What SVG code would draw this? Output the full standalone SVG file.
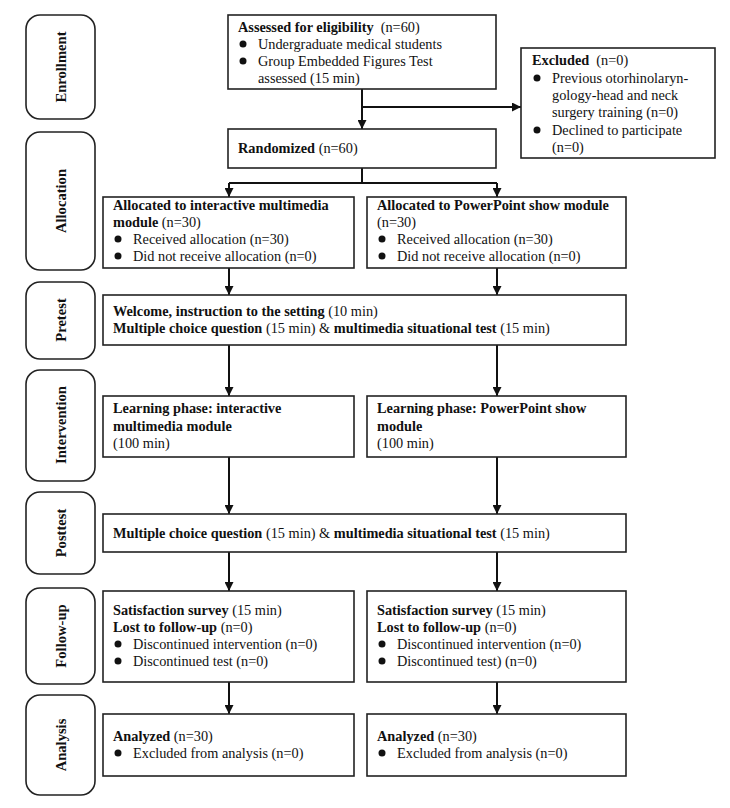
<svg xmlns="http://www.w3.org/2000/svg" width="730" height="808" viewBox="0 0 730 808">
<style>
text{font-family:"Liberation Serif","Times New Roman",serif;font-size:14.3px;fill:#111}
.b{font-weight:bold}
.box{fill:#fff;stroke:#222;stroke-width:1.6}
.side{fill:#fff;stroke:#222;stroke-width:1.6}
.lbl{font-weight:bold;font-size:14.6px;text-anchor:middle;dominant-baseline:central}
.c{stroke:#111;stroke-width:2;fill:none}
.dot{fill:#111}
</style>
<defs>
<marker id="ah" viewBox="0 0 10 10" refX="10" refY="5" markerWidth="4.5" markerHeight="4.5" orient="auto" markerUnits="strokeWidth">
<path d="M0,0 L10,5 L0,10 Z" fill="#111"/>
</marker>
</defs>
<g id="sides">
<g id="s-enroll"><rect class="side" x="26" y="15" width="69" height="104" rx="14"/><text class="lbl" transform="translate(61,67) rotate(-90)">Enrollment</text></g>
<g id="s-alloc"><rect class="side" x="26" y="132" width="69" height="138" rx="14"/><text class="lbl" transform="translate(61,201) rotate(-90)">Allocation</text></g>
<g id="s-pre"><rect class="side" x="26" y="282" width="69" height="77" rx="14"/><text class="lbl" transform="translate(61,320) rotate(-90)">Pretest</text></g>
<g id="s-int"><rect class="side" x="26" y="370" width="69" height="111" rx="14"/><text class="lbl" transform="translate(61,425) rotate(-90)">Intervention</text></g>
<g id="s-post"><rect class="side" x="26" y="492" width="69" height="82" rx="14"/><text class="lbl" transform="translate(61,533) rotate(-90)">Posttest</text></g>
<g id="s-fu"><rect class="side" x="26" y="588" width="69" height="96" rx="14"/><text class="lbl" transform="translate(61,636) rotate(-90)">Follow-up</text></g>
<g id="s-an"><rect class="side" x="26" y="695" width="69" height="100" rx="14"/><text class="lbl" transform="translate(61,745) rotate(-90)">Analysis</text></g>
</g>
<g id="connectors">
<path class="c" d="M362,89 V129" marker-end="url(#ah)"/>
<path class="c" d="M362,107 H521" marker-end="url(#ah)"/>
<path class="c" d="M362,168 V183"/>
<path class="c" d="M229,183 H497"/>
<path class="c" d="M229,183 V197" marker-end="url(#ah)"/>
<path class="c" d="M497,183 V197" marker-end="url(#ah)"/>
<path class="c" d="M229,268 V295" marker-end="url(#ah)"/>
<path class="c" d="M497,268 V295" marker-end="url(#ah)"/>
<path class="c" d="M229,345 V396" marker-end="url(#ah)"/>
<path class="c" d="M497,345 V396" marker-end="url(#ah)"/>
<path class="c" d="M229,457 V514" marker-end="url(#ah)"/>
<path class="c" d="M497,457 V514" marker-end="url(#ah)"/>
<path class="c" d="M229,552 V591" marker-end="url(#ah)"/>
<path class="c" d="M497,552 V591" marker-end="url(#ah)"/>
<path class="c" d="M229,682 V714" marker-end="url(#ah)"/>
<path class="c" d="M497,682 V714" marker-end="url(#ah)"/>
</g>
<g id="assessed">
<rect class="box" x="228" y="15" width="268" height="74"/>
<text x="238" y="32" xml:space="preserve"><tspan class="b">Assessed for eligibility</tspan>  (n=60)</text>
<circle class="dot" cx="243" cy="44" r="3.5"/><text x="258" y="49">Undergraduate medical students</text>
<circle class="dot" cx="243" cy="61" r="3.5"/><text x="258" y="66">Group Embedded Figures Test</text>
<text x="258" y="83">assessed (15 min)</text>
</g>
<g id="excluded">
<rect class="box" x="521" y="48" width="194" height="110"/>
<text x="532" y="65" xml:space="preserve"><tspan class="b">Excluded</tspan>  (n=0)</text>
<circle class="dot" cx="537" cy="78" r="3.5"/><text x="552" y="83">Previous otorhinolaryn-</text>
<text x="552" y="100">gology-head and neck</text>
<text x="552" y="117">surgery training (n=0)</text>
<circle class="dot" cx="537" cy="130" r="3.5"/><text x="552" y="135">Declined to participate</text>
<text x="552" y="152">(n=0)</text>
</g>
<g id="randomized">
<rect class="box" x="228" y="129" width="268" height="39"/>
<text x="238" y="153"><tspan class="b">Randomized</tspan> (n=60)</text>
</g>
<g id="alloc-left">
<rect class="box" x="103" y="197" width="251" height="71"/>
<text x="113" y="210" class="b">Allocated to interactive multimedia</text>
<text x="113" y="227"><tspan class="b">module</tspan> (n=30)</text>
<circle class="dot" cx="118" cy="239" r="3.5"/><text x="133" y="244">Received allocation (n=30)</text>
<circle class="dot" cx="118" cy="256" r="3.5"/><text x="133" y="261">Did not receive allocation (n=0)</text>
</g>
<g id="alloc-right">
<rect class="box" x="367" y="197" width="259" height="71"/>
<text x="377" y="210" class="b">Allocated to PowerPoint show module</text>
<text x="377" y="227">(n=30)</text>
<circle class="dot" cx="382" cy="239" r="3.5"/><text x="397" y="244">Received allocation (n=30)</text>
<circle class="dot" cx="382" cy="256" r="3.5"/><text x="397" y="261">Did not receive allocation (n=0)</text>
</g>
<g id="pretest">
<rect class="box" x="103" y="295" width="523" height="50"/>
<text x="113" y="316"><tspan class="b">Welcome, instruction to the setting</tspan> (10 min)</text>
<text x="113" y="333"><tspan class="b">Multiple choice question</tspan> (15 min) &amp; <tspan class="b">multimedia situational test</tspan> (15 min)</text>
</g>
<g id="int-left">
<rect class="box" x="103" y="396" width="251" height="61"/>
<text x="113" y="413" class="b">Learning phase: interactive</text>
<text x="113" y="431" class="b">multimedia module</text>
<text x="113" y="448">(100 min)</text>
</g>
<g id="int-right">
<rect class="box" x="367" y="396" width="259" height="61"/>
<text x="377" y="413" class="b">Learning phase: PowerPoint show</text>
<text x="377" y="431" class="b">module</text>
<text x="377" y="448">(100 min)</text>
</g>
<g id="posttest">
<rect class="box" x="103" y="514" width="523" height="38"/>
<text x="113" y="538"><tspan class="b">Multiple choice question</tspan> (15 min) &amp; <tspan class="b">multimedia situational test</tspan> (15 min)</text>
</g>
<g id="fu-left">
<rect class="box" x="103" y="591" width="251" height="91"/>
<text x="113" y="615"><tspan class="b">Satisfaction survey</tspan> (15 min)</text>
<text x="113" y="632"><tspan class="b">Lost to follow-up</tspan> (n=0)</text>
<circle class="dot" cx="118" cy="644" r="3.5"/><text x="133" y="649">Discontinued intervention (n=0)</text>
<circle class="dot" cx="118" cy="661" r="3.5"/><text x="133" y="666">Discontinued test (n=0)</text>
</g>
<g id="fu-right">
<rect class="box" x="367" y="591" width="259" height="91"/>
<text x="377" y="615"><tspan class="b">Satisfaction survey</tspan> (15 min)</text>
<text x="377" y="632"><tspan class="b">Lost to follow-up</tspan> (n=0)</text>
<circle class="dot" cx="382" cy="644" r="3.5"/><text x="397" y="649">Discontinued intervention (n=0)</text>
<circle class="dot" cx="382" cy="661" r="3.5"/><text x="397" y="666">Discontinued test) (n=0)</text>
</g>
<g id="an-left">
<rect class="box" x="103" y="714" width="251" height="62"/>
<text x="113" y="741"><tspan class="b">Analyzed</tspan> (n=30)</text>
<circle class="dot" cx="118" cy="753" r="3.5"/><text x="133" y="758">Excluded from analysis (n=0)</text>
</g>
<g id="an-right">
<rect class="box" x="367" y="714" width="259" height="62"/>
<text x="377" y="741"><tspan class="b">Analyzed</tspan> (n=30)</text>
<circle class="dot" cx="382" cy="753" r="3.5"/><text x="397" y="758">Excluded from analysis (n=0)</text>
</g>
</svg>
